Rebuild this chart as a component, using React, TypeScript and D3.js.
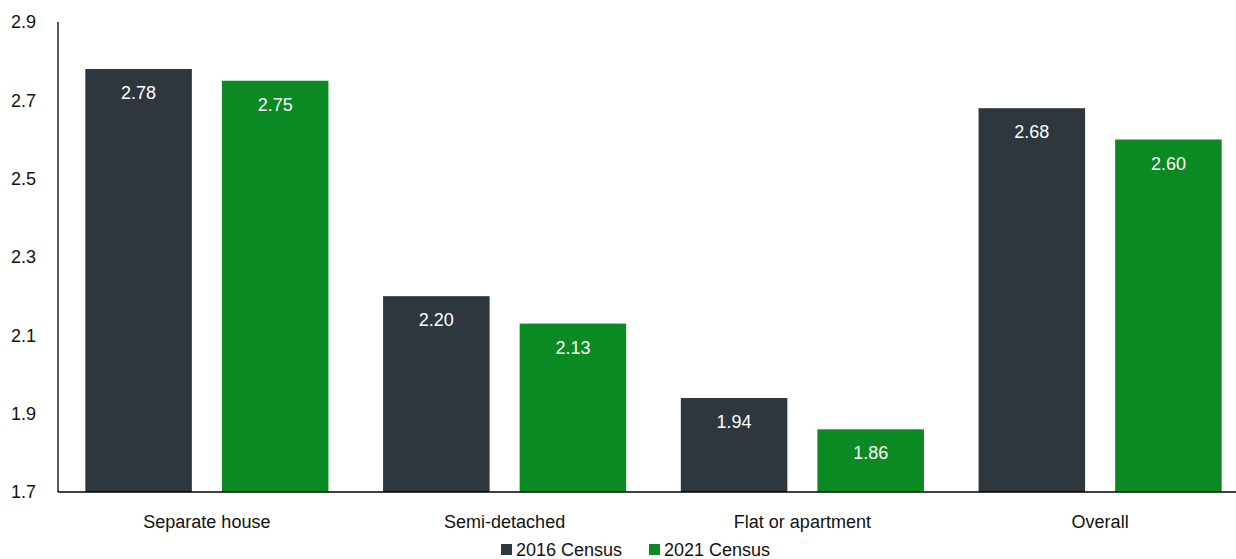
import React from "react";
import * as d3 from "d3";

const categories = ["Separate house", "Semi-detached", "Flat or apartment", "Overall"];
const seriesNames = ["2016 Census", "2021 Census"];
const values2016 = [2.78, 2.2, 1.94, 2.68];
const values2021 = [2.75, 2.13, 1.86, 2.6];
const yTicks = [1.7, 1.9, 2.1, 2.3, 2.5, 2.7, 2.9];
const colors = ["#2e373e", "#0b8a24"];

const W = 1236;
const H = 559;
const FONT = "'Liberation Sans', Arial, sans-serif";

export default function App() {
  const left = 58;
  const top = 22;
  const bottom = 492;
  const x0 = d3.scaleBand<string>().domain(categories).range([left, left + 4 * 297.75]).padding(0);
  const x1 = d3
    .scaleBand<string>()
    .domain(seriesNames)
    .range([0, x0.bandwidth()])
    .paddingInner(0.22)
    .paddingOuter(0.2);
  const y = d3.scaleLinear().domain([1.7, 2.9]).range([bottom, top]);
  const seriesValues = [values2016, values2021];

  return (
    <svg
      width={W}
      height={H}
      style={{ position: "absolute", left: 0, top: 0, background: "#fff" }}
      fontFamily={FONT}
    >
      {/* bars */}
      {categories.map((c, ci) => (
        <g key={c}>
          {seriesNames.map((s, si) => {
            const v = seriesValues[si][ci];
            const bx = (x0(c) as number) + (x1(s) as number);
            const by = y(v);
            const bw = x1.bandwidth();
            return (
              <g key={s}>
                <rect x={bx} y={by} width={bw} height={bottom - by} fill={colors[si]} />
                <text
                  x={bx + bw / 2}
                  y={by + 30}
                  textAnchor="middle"
                  fill="#fff"
                  fontSize={18}
                >
                  {v.toFixed(2)}
                </text>
              </g>
            );
          })}
          <text x={(x0(c) as number) + x0.bandwidth() / 2} y={528} textAnchor="middle" fontSize={18} fill="#111">
            {c}
          </text>
        </g>
      ))}
      {/* y axis */}
      <line x1={left} x2={left} y1={top} y2={bottom} stroke="#000" strokeWidth={1.3} />
      <line x1={left} x2={W} y1={bottom} y2={bottom} stroke="#000" strokeWidth={1.5} />
      {yTicks.map((t) => (
        <text key={t} x={36} y={y(t)} dy="0.35em" textAnchor="end" fontSize={18} fill="#111">
          {t.toFixed(1)}
        </text>
      ))}
      {/* legend */}
      {seriesNames.map((s, i) => {
        const lx = i === 0 ? 501 : 649;
        return (
          <g key={s}>
            <rect x={lx} y={544} width={11} height={11} fill={colors[i]} />
            <text x={lx + 15} y={556} fontSize={18} fill="#111">
              {s}
            </text>
          </g>
        );
      })}
    </svg>
  );
}
